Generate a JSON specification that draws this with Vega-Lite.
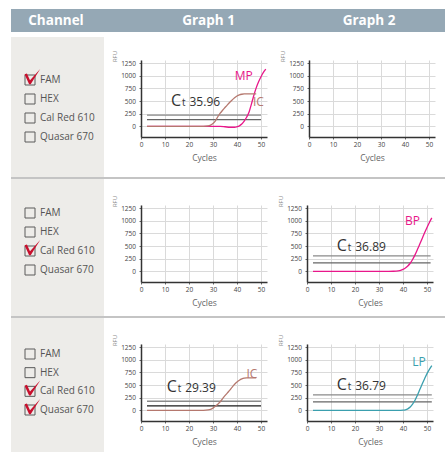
{
  "$schema": "https://vega.github.io/schema/vega-lite/v6.json",
  "padding": {"left": 11, "top": 9, "right": 0, "bottom": 0},
  "background": "white",
  "config": {
    "font": "Open Sans",
    "view": {"stroke": null},
    "axis": {"labelFont": "Open Sans", "labelFontSize": 6.5, "labelColor": "#444", "tickSize": 2, "tickColor": "#666", "tickWidth": 1, "domainColor": "#333", "domainWidth": 1.5, "gridColor": "#dadada", "gridWidth": 1, "titleFont": "Open Sans", "titleFontWeight": "normal", "labelOverlap": false},
    "axisX": {"titleFontSize": 8.5, "titleColor": "#666", "titlePadding": 5.5, "labelPadding": 2.5, "labelFlush": false},
    "axisY": {"titleFontSize": 6, "titleColor": "#888", "titleAngle": 270, "titleX": -27, "titleY": -4, "titleAlign": "center", "titleBaseline": "middle", "labelPadding": 3.5}
  },
  "datasets": {
    "channels": [
      {"row": 1, "channel": "FAM", "checked": true}, {"row": 1, "channel": "HEX", "checked": false}, {"row": 1, "channel": "Cal Red 610", "checked": false}, {"row": 1, "channel": "Quasar 670", "checked": false},
      {"row": 2, "channel": "FAM", "checked": false}, {"row": 2, "channel": "HEX", "checked": false}, {"row": 2, "channel": "Cal Red 610", "checked": true}, {"row": 2, "channel": "Quasar 670", "checked": false},
      {"row": 3, "channel": "FAM", "checked": false}, {"row": 3, "channel": "HEX", "checked": false}, {"row": 3, "channel": "Cal Red 610", "checked": true}, {"row": 3, "channel": "Quasar 670", "checked": true}
    ],
    "thr": [
      {"row": 1, "graph": 1, "level": "upper", "y": 223, "x": 2.5, "x2": 50},
      {"row": 1, "graph": 1, "level": "lower", "y": 132, "x": 2.5, "x2": 50},
      {"row": 2, "graph": 2, "level": "upper", "y": 304, "x": 2.5, "x2": 51.5},
      {"row": 2, "graph": 2, "level": "lower", "y": 166, "x": 2.5, "x2": 51.5},
      {"row": 3, "graph": 1, "level": "upper", "y": 180, "x": 2.5, "x2": 50},
      {"row": 3, "graph": 1, "level": "dark", "y": 87, "x": 2.5, "x2": 50},
      {"row": 3, "graph": 2, "level": "upper", "y": 304, "x": 2.5, "x2": 52},
      {"row": 3, "graph": 2, "level": "lower", "y": 166, "x": 2.5, "x2": 52}
    ],
    "curves": [
      {"row": 1, "graph": 1, "series": "MP", "x": 2.5, "y": 0}, {"row": 1, "graph": 1, "series": "MP", "x": 33, "y": 0}, {"row": 1, "graph": 1, "series": "MP", "x": 35, "y": -8}, {"row": 1, "graph": 1, "series": "MP", "x": 37, "y": -18}, {"row": 1, "graph": 1, "series": "MP", "x": 39, "y": -18}, {"row": 1, "graph": 1, "series": "MP", "x": 40, "y": -8}, {"row": 1, "graph": 1, "series": "MP", "x": 41, "y": 10}, {"row": 1, "graph": 1, "series": "MP", "x": 42, "y": 45}, {"row": 1, "graph": 1, "series": "MP", "x": 43, "y": 105}, {"row": 1, "graph": 1, "series": "MP", "x": 44, "y": 180}, {"row": 1, "graph": 1, "series": "MP", "x": 45, "y": 280}, {"row": 1, "graph": 1, "series": "MP", "x": 46, "y": 440}, {"row": 1, "graph": 1, "series": "MP", "x": 47, "y": 610}, {"row": 1, "graph": 1, "series": "MP", "x": 48, "y": 760}, {"row": 1, "graph": 1, "series": "MP", "x": 49, "y": 880}, {"row": 1, "graph": 1, "series": "MP", "x": 50, "y": 980}, {"row": 1, "graph": 1, "series": "MP", "x": 51, "y": 1065}, {"row": 1, "graph": 1, "series": "MP", "x": 52, "y": 1130},
      {"row": 1, "graph": 1, "series": "IC", "x": 2.5, "y": 0}, {"row": 1, "graph": 1, "series": "IC", "x": 26, "y": 0}, {"row": 1, "graph": 1, "series": "IC", "x": 28, "y": 8}, {"row": 1, "graph": 1, "series": "IC", "x": 29, "y": 25}, {"row": 1, "graph": 1, "series": "IC", "x": 30, "y": 55}, {"row": 1, "graph": 1, "series": "IC", "x": 31, "y": 110}, {"row": 1, "graph": 1, "series": "IC", "x": 32, "y": 190}, {"row": 1, "graph": 1, "series": "IC", "x": 33, "y": 260}, {"row": 1, "graph": 1, "series": "IC", "x": 34, "y": 318}, {"row": 1, "graph": 1, "series": "IC", "x": 35, "y": 372}, {"row": 1, "graph": 1, "series": "IC", "x": 36, "y": 425}, {"row": 1, "graph": 1, "series": "IC", "x": 37, "y": 475}, {"row": 1, "graph": 1, "series": "IC", "x": 38, "y": 522}, {"row": 1, "graph": 1, "series": "IC", "x": 39, "y": 565}, {"row": 1, "graph": 1, "series": "IC", "x": 40, "y": 600}, {"row": 1, "graph": 1, "series": "IC", "x": 41, "y": 622}, {"row": 1, "graph": 1, "series": "IC", "x": 42, "y": 634}, {"row": 1, "graph": 1, "series": "IC", "x": 43, "y": 640}, {"row": 1, "graph": 1, "series": "IC", "x": 48, "y": 640},
      {"row": 2, "graph": 2, "series": "BP", "x": 2.5, "y": 0}, {"row": 2, "graph": 2, "series": "BP", "x": 34, "y": 0}, {"row": 2, "graph": 2, "series": "BP", "x": 36, "y": 2}, {"row": 2, "graph": 2, "series": "BP", "x": 38, "y": 10}, {"row": 2, "graph": 2, "series": "BP", "x": 39, "y": 20}, {"row": 2, "graph": 2, "series": "BP", "x": 40, "y": 38}, {"row": 2, "graph": 2, "series": "BP", "x": 41, "y": 65}, {"row": 2, "graph": 2, "series": "BP", "x": 42, "y": 105}, {"row": 2, "graph": 2, "series": "BP", "x": 43, "y": 160}, {"row": 2, "graph": 2, "series": "BP", "x": 44, "y": 235}, {"row": 2, "graph": 2, "series": "BP", "x": 45, "y": 325}, {"row": 2, "graph": 2, "series": "BP", "x": 46, "y": 430}, {"row": 2, "graph": 2, "series": "BP", "x": 47, "y": 540}, {"row": 2, "graph": 2, "series": "BP", "x": 48, "y": 650}, {"row": 2, "graph": 2, "series": "BP", "x": 49, "y": 760}, {"row": 2, "graph": 2, "series": "BP", "x": 50, "y": 865}, {"row": 2, "graph": 2, "series": "BP", "x": 51, "y": 965}, {"row": 2, "graph": 2, "series": "BP", "x": 52, "y": 1055},
      {"row": 3, "graph": 1, "series": "IC", "x": 2.5, "y": 0}, {"row": 3, "graph": 1, "series": "IC", "x": 26, "y": 0}, {"row": 3, "graph": 1, "series": "IC", "x": 28, "y": 8}, {"row": 3, "graph": 1, "series": "IC", "x": 29, "y": 20}, {"row": 3, "graph": 1, "series": "IC", "x": 30, "y": 45}, {"row": 3, "graph": 1, "series": "IC", "x": 31, "y": 80}, {"row": 3, "graph": 1, "series": "IC", "x": 32, "y": 120}, {"row": 3, "graph": 1, "series": "IC", "x": 33, "y": 170}, {"row": 3, "graph": 1, "series": "IC", "x": 34, "y": 230}, {"row": 3, "graph": 1, "series": "IC", "x": 35, "y": 290}, {"row": 3, "graph": 1, "series": "IC", "x": 36, "y": 345}, {"row": 3, "graph": 1, "series": "IC", "x": 37, "y": 400}, {"row": 3, "graph": 1, "series": "IC", "x": 38, "y": 460}, {"row": 3, "graph": 1, "series": "IC", "x": 39, "y": 515}, {"row": 3, "graph": 1, "series": "IC", "x": 40, "y": 560}, {"row": 3, "graph": 1, "series": "IC", "x": 41, "y": 595}, {"row": 3, "graph": 1, "series": "IC", "x": 42, "y": 620}, {"row": 3, "graph": 1, "series": "IC", "x": 43, "y": 635}, {"row": 3, "graph": 1, "series": "IC", "x": 44, "y": 640}, {"row": 3, "graph": 1, "series": "IC", "x": 48, "y": 640},
      {"row": 3, "graph": 2, "series": "LP", "x": 2.5, "y": 0}, {"row": 3, "graph": 2, "series": "LP", "x": 38, "y": 0}, {"row": 3, "graph": 2, "series": "LP", "x": 40, "y": 4}, {"row": 3, "graph": 2, "series": "LP", "x": 41, "y": 12}, {"row": 3, "graph": 2, "series": "LP", "x": 42, "y": 30}, {"row": 3, "graph": 2, "series": "LP", "x": 43, "y": 65}, {"row": 3, "graph": 2, "series": "LP", "x": 44, "y": 125}, {"row": 3, "graph": 2, "series": "LP", "x": 45, "y": 200}, {"row": 3, "graph": 2, "series": "LP", "x": 46, "y": 300}, {"row": 3, "graph": 2, "series": "LP", "x": 47, "y": 410}, {"row": 3, "graph": 2, "series": "LP", "x": 48, "y": 520}, {"row": 3, "graph": 2, "series": "LP", "x": 49, "y": 625}, {"row": 3, "graph": 2, "series": "LP", "x": 50, "y": 725}, {"row": 3, "graph": 2, "series": "LP", "x": 51, "y": 810}, {"row": 3, "graph": 2, "series": "LP", "x": 52, "y": 885}
    ],
    "labels": [
      {"row": 1, "graph": 1, "series": "MP", "x": 42.8, "y": 908},
      {"row": 1, "graph": 1, "series": "IC", "x": 48.9, "y": 395},
      {"row": 2, "graph": 2, "series": "BP", "x": 44, "y": 910},
      {"row": 3, "graph": 1, "series": "IC", "x": 46.2, "y": 645},
      {"row": 3, "graph": 2, "series": "LP", "x": 46.7, "y": 876}
    ],
    "ct": [
      {"row": 1, "graph": 1, "x": 12.5, "y": 395, "num": "35.96"},
      {"row": 2, "graph": 2, "x": 12.4, "y": 403, "num": "36.89"},
      {"row": 3, "graph": 1, "x": 10.7, "y": 363, "num": "29.39"},
      {"row": 3, "graph": 2, "x": 12.4, "y": 403, "num": "36.79"}
    ]
  },
  "spacing": 0,
  "vconcat": [
    {
      "spacing": 0,
      "hconcat": [
        {"width": 90, "height": 23, "view": {"fill": "#95a8b5"}, "data": {"values": [{"t": "Channel"}]}, "mark": {"type": "text", "fontSize": 13.5, "fontWeight": "bold", "color": "white", "baseline": "middle", "align": "center"}, "encoding": {"text": {"field": "t"}}},
        {"width": 215, "height": 23, "view": {"fill": "#95a8b5"}, "data": {"values": [{"t": "Graph 1"}]}, "mark": {"type": "text", "fontSize": 13.5, "fontWeight": "bold", "color": "white", "baseline": "middle", "align": "center"}, "encoding": {"text": {"field": "t"}}},
        {"width": 106, "height": 23, "view": {"fill": "#95a8b5"}, "data": {"values": [{"t": "Graph 2"}]}, "mark": {"type": "text", "fontSize": 13.5, "fontWeight": "bold", "color": "white", "baseline": "middle", "align": "center"}, "encoding": {"text": {"field": "t"}}},
        {"width": 23, "height": 23, "view": {"fill": "#95a8b5"}, "data": {"values": []}, "mark": "point"}
      ]
    },
    {"width": 434, "height": 5, "data": {"values": []}, "mark": "point"},
    {
      "spacing": 7,
      "resolve": {"scale": {"x": "independent", "y": "independent", "color": "independent"}},
      "hconcat": [
        {
          "width": 93, "height": 140, "view": {"fill": "#edece9"},
          "data": {"name": "channels"}, "transform": [{"filter": "datum.row==1"}],
          "encoding": {"y": {"field": "channel", "type": "nominal", "scale": {"type": "point", "domain": ["FAM", "HEX", "Cal Red 610", "Quasar 670"], "range": [43, 100], "padding": 0}, "axis": null}},
          "layer": [
            {"mark": {"type": "point", "shape": "square", "size": 100, "filled": false, "color": "#5a5a5a", "strokeWidth": 1, "opacity": 1}, "encoding": {"x": {"datum": "box", "type": "nominal", "scale": {"type": "point", "domain": ["box", "label"], "range": [19, 29], "padding": 0}, "axis": null}}},
            {"mark": {"type": "text", "align": "left", "baseline": "middle", "fontSize": 10, "color": "#555"}, "encoding": {"x": {"datum": "label", "type": "nominal"}, "text": {"field": "channel"}}},
            {"transform": [{"filter": "datum.checked"}], "mark": {"type": "point", "shape": "M-0.5,-0.52L-0.28,-0.6L0,0.02L0.93,-1L0.06,0.38L-0.08,0.38Z", "size": 480, "filled": true, "color": "#c8102e", "opacity": 1, "strokeWidth": 0}, "encoding": {"x": {"datum": "box", "type": "nominal"}}}
          ]
        },
        {
          "spacing": 0,
          "resolve": {"scale": {"x": "independent", "y": "independent", "color": "independent"}},
          "vconcat": [
            {"width": 1, "height": 13, "data": {"values": []}, "mark": "point"},
            {
              "spacing": 10,
              "resolve": {"scale": {"x": "independent", "y": "independent", "color": "independent"}},
              "hconcat": [
                {
                  "width": 126, "height": 77,
                  "encoding": {
                    "x": {"field": "x", "type": "quantitative", "scale": {"domain": [0, 52.5], "nice": false, "zero": false}, "axis": {"values": [0, 10, 20, 30, 40, 50], "title": "Cycles"}},
                    "y": {"field": "y", "type": "quantitative", "scale": {"domain": [-210, 1310], "nice": false, "zero": false}, "axis": {"values": [0, 250, 500, 750, 1000, 1250], "title": "RFU", "format": "d"}}
                  },
                  "layer": [
                    {"data": {"name": "thr"}, "transform": [{"filter": "datum.row==1 && datum.graph==1"}], "mark": {"type": "rule", "strokeWidth": 1.3}, "encoding": {"x2": {"field": "x2"}, "color": {"field": "level", "type": "nominal", "scale": {"domain": ["MP", "IC", "BP", "LP", "upper", "lower", "dark"], "range": ["#e8178a", "#b5786e", "#e8178a", "#3a9fae", "#8a8a8a", "#666666", "#1a1a1a"]}, "legend": null}}},
                    {"data": {"name": "curves"}, "transform": [{"filter": "datum.row==1 && datum.graph==1"}], "mark": {"type": "line", "strokeWidth": 1.3, "interpolate": "monotone"}, "encoding": {"color": {"field": "series", "type": "nominal", "legend": null}}},
                    {"data": {"name": "labels"}, "transform": [{"filter": "datum.row==1 && datum.graph==1"}], "mark": {"type": "text", "fontSize": 12, "align": "center", "baseline": "alphabetic"}, "encoding": {"text": {"field": "series"}, "color": {"field": "series", "type": "nominal", "legend": null}}},
                    {"data": {"name": "ct"}, "transform": [{"filter": "datum.row==1 && datum.graph==1"}], "mark": {"type": "text", "fontSize": 16, "align": "left", "baseline": "alphabetic", "color": "#333"}, "encoding": {"text": {"value": "C"}}},
                    {"data": {"name": "ct"}, "transform": [{"filter": "datum.row==1 && datum.graph==1"}], "mark": {"type": "text", "fontSize": 10, "align": "left", "baseline": "alphabetic", "color": "#333", "dx": 11}, "encoding": {"text": {"value": "t"}}},
                    {"data": {"name": "ct"}, "transform": [{"filter": "datum.row==1 && datum.graph==1"}], "mark": {"type": "text", "fontSize": 12, "align": "left", "baseline": "alphabetic", "color": "#333", "dx": 18.5}, "encoding": {"text": {"field": "num"}}}
                  ]
                },
                {
                  "width": 126, "height": 77,
                  "encoding": {
                    "x": {"field": "x", "type": "quantitative", "scale": {"domain": [0, 52.5], "nice": false, "zero": false}, "axis": {"values": [0, 10, 20, 30, 40, 50], "title": "Cycles"}},
                    "y": {"field": "y", "type": "quantitative", "scale": {"domain": [-210, 1310], "nice": false, "zero": false}, "axis": {"values": [0, 250, 500, 750, 1000, 1250], "title": "RFU", "format": "d"}}
                  },
                  "layer": [
                    {"data": {"name": "thr"}, "transform": [{"filter": "datum.row==1 && datum.graph==2"}], "mark": {"type": "rule", "strokeWidth": 1.3}, "encoding": {"x2": {"field": "x2"}, "color": {"field": "level", "type": "nominal", "scale": {"domain": ["MP", "IC", "BP", "LP", "upper", "lower", "dark"], "range": ["#e8178a", "#b5786e", "#e8178a", "#3a9fae", "#8a8a8a", "#666666", "#1a1a1a"]}, "legend": null}}}
                  ]
                }
              ]
            }
          ]
        }
      ]
    },
    {"width": 434, "height": 2, "view": {"fill": "#c4c4c4"}, "data": {"values": []}, "mark": "point"},
    {
      "spacing": 7,
      "resolve": {"scale": {"x": "independent", "y": "independent", "color": "independent"}},
      "hconcat": [
        {
          "width": 93, "height": 137, "view": {"fill": "#edece9"},
          "data": {"name": "channels"}, "transform": [{"filter": "datum.row==2"}],
          "encoding": {"y": {"field": "channel", "type": "nominal", "scale": {"type": "point", "domain": ["FAM", "HEX", "Cal Red 610", "Quasar 670"], "range": [34, 91], "padding": 0}, "axis": null}},
          "layer": [
            {"mark": {"type": "point", "shape": "square", "size": 100, "filled": false, "color": "#5a5a5a", "strokeWidth": 1, "opacity": 1}, "encoding": {"x": {"datum": "box", "type": "nominal", "scale": {"type": "point", "domain": ["box", "label"], "range": [19, 29], "padding": 0}, "axis": null}}},
            {"mark": {"type": "text", "align": "left", "baseline": "middle", "fontSize": 10, "color": "#555"}, "encoding": {"x": {"datum": "label", "type": "nominal"}, "text": {"field": "channel"}}},
            {"transform": [{"filter": "datum.checked"}], "mark": {"type": "point", "shape": "M-0.5,-0.52L-0.28,-0.6L0,0.02L0.93,-1L0.06,0.38L-0.08,0.38Z", "size": 480, "filled": true, "color": "#c8102e", "opacity": 1, "strokeWidth": 0}, "encoding": {"x": {"datum": "box", "type": "nominal"}}}
          ]
        },
        {
          "spacing": 0,
          "resolve": {"scale": {"x": "independent", "y": "independent", "color": "independent"}},
          "vconcat": [
            {"width": 1, "height": 16, "data": {"values": []}, "mark": "point"},
            {
              "spacing": 10,
              "resolve": {"scale": {"x": "independent", "y": "independent", "color": "independent"}},
              "hconcat": [
                {
                  "width": 126, "height": 77,
                  "encoding": {
                    "x": {"field": "x", "type": "quantitative", "scale": {"domain": [0, 52.5], "nice": false, "zero": false}, "axis": {"values": [0, 10, 20, 30, 40, 50], "title": "Cycles"}},
                    "y": {"field": "y", "type": "quantitative", "scale": {"domain": [-210, 1310], "nice": false, "zero": false}, "axis": {"values": [0, 250, 500, 750, 1000, 1250], "title": "RFU", "format": "d"}}
                  },
                  "layer": [
                    {"data": {"name": "thr"}, "transform": [{"filter": "datum.row==2 && datum.graph==1"}], "mark": {"type": "rule", "strokeWidth": 1.3}, "encoding": {"x2": {"field": "x2"}, "color": {"field": "level", "type": "nominal", "scale": {"domain": ["MP", "IC", "BP", "LP", "upper", "lower", "dark"], "range": ["#e8178a", "#b5786e", "#e8178a", "#3a9fae", "#8a8a8a", "#666666", "#1a1a1a"]}, "legend": null}}}
                  ]
                },
                {
                  "width": 126, "height": 77,
                  "encoding": {
                    "x": {"field": "x", "type": "quantitative", "scale": {"domain": [0, 52.5], "nice": false, "zero": false}, "axis": {"values": [0, 10, 20, 30, 40, 50], "title": "Cycles"}},
                    "y": {"field": "y", "type": "quantitative", "scale": {"domain": [-210, 1310], "nice": false, "zero": false}, "axis": {"values": [0, 250, 500, 750, 1000, 1250], "title": "RFU", "format": "d"}}
                  },
                  "layer": [
                    {"data": {"name": "thr"}, "transform": [{"filter": "datum.row==2 && datum.graph==2"}], "mark": {"type": "rule", "strokeWidth": 1.3}, "encoding": {"x2": {"field": "x2"}, "color": {"field": "level", "type": "nominal", "scale": {"domain": ["MP", "IC", "BP", "LP", "upper", "lower", "dark"], "range": ["#e8178a", "#b5786e", "#e8178a", "#3a9fae", "#8a8a8a", "#666666", "#1a1a1a"]}, "legend": null}}},
                    {"data": {"name": "curves"}, "transform": [{"filter": "datum.row==2 && datum.graph==2"}], "mark": {"type": "line", "strokeWidth": 1.3, "interpolate": "monotone"}, "encoding": {"color": {"field": "series", "type": "nominal", "legend": null}}},
                    {"data": {"name": "labels"}, "transform": [{"filter": "datum.row==2 && datum.graph==2"}], "mark": {"type": "text", "fontSize": 12, "align": "center", "baseline": "alphabetic"}, "encoding": {"text": {"field": "series"}, "color": {"field": "series", "type": "nominal", "legend": null}}},
                    {"data": {"name": "ct"}, "transform": [{"filter": "datum.row==2 && datum.graph==2"}], "mark": {"type": "text", "fontSize": 16, "align": "left", "baseline": "alphabetic", "color": "#333"}, "encoding": {"text": {"value": "C"}}},
                    {"data": {"name": "ct"}, "transform": [{"filter": "datum.row==2 && datum.graph==2"}], "mark": {"type": "text", "fontSize": 10, "align": "left", "baseline": "alphabetic", "color": "#333", "dx": 11}, "encoding": {"text": {"value": "t"}}},
                    {"data": {"name": "ct"}, "transform": [{"filter": "datum.row==2 && datum.graph==2"}], "mark": {"type": "text", "fontSize": 12, "align": "left", "baseline": "alphabetic", "color": "#333", "dx": 18.5}, "encoding": {"text": {"field": "num"}}}
                  ]
                }
              ]
            }
          ]
        }
      ]
    },
    {"width": 434, "height": 2, "view": {"fill": "#c4c4c4"}, "data": {"values": []}, "mark": "point"},
    {
      "spacing": 7,
      "resolve": {"scale": {"x": "independent", "y": "independent", "color": "independent"}},
      "hconcat": [
        {
          "width": 93, "height": 134, "view": {"fill": "#edece9"},
          "data": {"name": "channels"}, "transform": [{"filter": "datum.row==3"}],
          "encoding": {"y": {"field": "channel", "type": "nominal", "scale": {"type": "point", "domain": ["FAM", "HEX", "Cal Red 610", "Quasar 670"], "range": [36, 92], "padding": 0}, "axis": null}},
          "layer": [
            {"mark": {"type": "point", "shape": "square", "size": 100, "filled": false, "color": "#5a5a5a", "strokeWidth": 1, "opacity": 1}, "encoding": {"x": {"datum": "box", "type": "nominal", "scale": {"type": "point", "domain": ["box", "label"], "range": [19, 29], "padding": 0}, "axis": null}}},
            {"mark": {"type": "text", "align": "left", "baseline": "middle", "fontSize": 10, "color": "#555"}, "encoding": {"x": {"datum": "label", "type": "nominal"}, "text": {"field": "channel"}}},
            {"transform": [{"filter": "datum.checked"}], "mark": {"type": "point", "shape": "M-0.5,-0.52L-0.28,-0.6L0,0.02L0.93,-1L0.06,0.38L-0.08,0.38Z", "size": 480, "filled": true, "color": "#c8102e", "opacity": 1, "strokeWidth": 0}, "encoding": {"x": {"datum": "box", "type": "nominal"}}}
          ]
        },
        {
          "spacing": 0,
          "resolve": {"scale": {"x": "independent", "y": "independent", "color": "independent"}},
          "vconcat": [
            {"width": 1, "height": 16, "data": {"values": []}, "mark": "point"},
            {
              "spacing": 10,
              "resolve": {"scale": {"x": "independent", "y": "independent", "color": "independent"}},
              "hconcat": [
                {
                  "width": 126, "height": 77,
                  "encoding": {
                    "x": {"field": "x", "type": "quantitative", "scale": {"domain": [0, 52.5], "nice": false, "zero": false}, "axis": {"values": [0, 10, 20, 30, 40, 50], "title": "Cycles"}},
                    "y": {"field": "y", "type": "quantitative", "scale": {"domain": [-210, 1310], "nice": false, "zero": false}, "axis": {"values": [0, 250, 500, 750, 1000, 1250], "title": "RFU", "format": "d"}}
                  },
                  "layer": [
                    {"data": {"name": "thr"}, "transform": [{"filter": "datum.row==3 && datum.graph==1"}], "mark": {"type": "rule", "strokeWidth": 1.3}, "encoding": {"x2": {"field": "x2"}, "color": {"field": "level", "type": "nominal", "scale": {"domain": ["MP", "IC", "BP", "LP", "upper", "lower", "dark"], "range": ["#e8178a", "#b5786e", "#e8178a", "#3a9fae", "#8a8a8a", "#666666", "#1a1a1a"]}, "legend": null}}},
                    {"data": {"name": "curves"}, "transform": [{"filter": "datum.row==3 && datum.graph==1"}], "mark": {"type": "line", "strokeWidth": 1.3, "interpolate": "monotone"}, "encoding": {"color": {"field": "series", "type": "nominal", "legend": null}}},
                    {"data": {"name": "labels"}, "transform": [{"filter": "datum.row==3 && datum.graph==1"}], "mark": {"type": "text", "fontSize": 12, "align": "center", "baseline": "alphabetic"}, "encoding": {"text": {"field": "series"}, "color": {"field": "series", "type": "nominal", "legend": null}}},
                    {"data": {"name": "ct"}, "transform": [{"filter": "datum.row==3 && datum.graph==1"}], "mark": {"type": "text", "fontSize": 16, "align": "left", "baseline": "alphabetic", "color": "#333"}, "encoding": {"text": {"value": "C"}}},
                    {"data": {"name": "ct"}, "transform": [{"filter": "datum.row==3 && datum.graph==1"}], "mark": {"type": "text", "fontSize": 10, "align": "left", "baseline": "alphabetic", "color": "#333", "dx": 11}, "encoding": {"text": {"value": "t"}}},
                    {"data": {"name": "ct"}, "transform": [{"filter": "datum.row==3 && datum.graph==1"}], "mark": {"type": "text", "fontSize": 12, "align": "left", "baseline": "alphabetic", "color": "#333", "dx": 18.5}, "encoding": {"text": {"field": "num"}}}
                  ]
                },
                {
                  "width": 126, "height": 77,
                  "encoding": {
                    "x": {"field": "x", "type": "quantitative", "scale": {"domain": [0, 52.5], "nice": false, "zero": false}, "axis": {"values": [0, 10, 20, 30, 40, 50], "title": "Cycles"}},
                    "y": {"field": "y", "type": "quantitative", "scale": {"domain": [-210, 1310], "nice": false, "zero": false}, "axis": {"values": [0, 250, 500, 750, 1000, 1250], "title": "RFU", "format": "d"}}
                  },
                  "layer": [
                    {"data": {"name": "thr"}, "transform": [{"filter": "datum.row==3 && datum.graph==2"}], "mark": {"type": "rule", "strokeWidth": 1.3}, "encoding": {"x2": {"field": "x2"}, "color": {"field": "level", "type": "nominal", "scale": {"domain": ["MP", "IC", "BP", "LP", "upper", "lower", "dark"], "range": ["#e8178a", "#b5786e", "#e8178a", "#3a9fae", "#8a8a8a", "#666666", "#1a1a1a"]}, "legend": null}}},
                    {"data": {"name": "curves"}, "transform": [{"filter": "datum.row==3 && datum.graph==2"}], "mark": {"type": "line", "strokeWidth": 1.3, "interpolate": "monotone"}, "encoding": {"color": {"field": "series", "type": "nominal", "legend": null}}},
                    {"data": {"name": "labels"}, "transform": [{"filter": "datum.row==3 && datum.graph==2"}], "mark": {"type": "text", "fontSize": 12, "align": "center", "baseline": "alphabetic"}, "encoding": {"text": {"field": "series"}, "color": {"field": "series", "type": "nominal", "legend": null}}},
                    {"data": {"name": "ct"}, "transform": [{"filter": "datum.row==3 && datum.graph==2"}], "mark": {"type": "text", "fontSize": 16, "align": "left", "baseline": "alphabetic", "color": "#333"}, "encoding": {"text": {"value": "C"}}},
                    {"data": {"name": "ct"}, "transform": [{"filter": "datum.row==3 && datum.graph==2"}], "mark": {"type": "text", "fontSize": 10, "align": "left", "baseline": "alphabetic", "color": "#333", "dx": 11}, "encoding": {"text": {"value": "t"}}},
                    {"data": {"name": "ct"}, "transform": [{"filter": "datum.row==3 && datum.graph==2"}], "mark": {"type": "text", "fontSize": 12, "align": "left", "baseline": "alphabetic", "color": "#333", "dx": 18.5}, "encoding": {"text": {"field": "num"}}}
                  ]
                }
              ]
            }
          ]
        }
      ]
    }
  ]
}
